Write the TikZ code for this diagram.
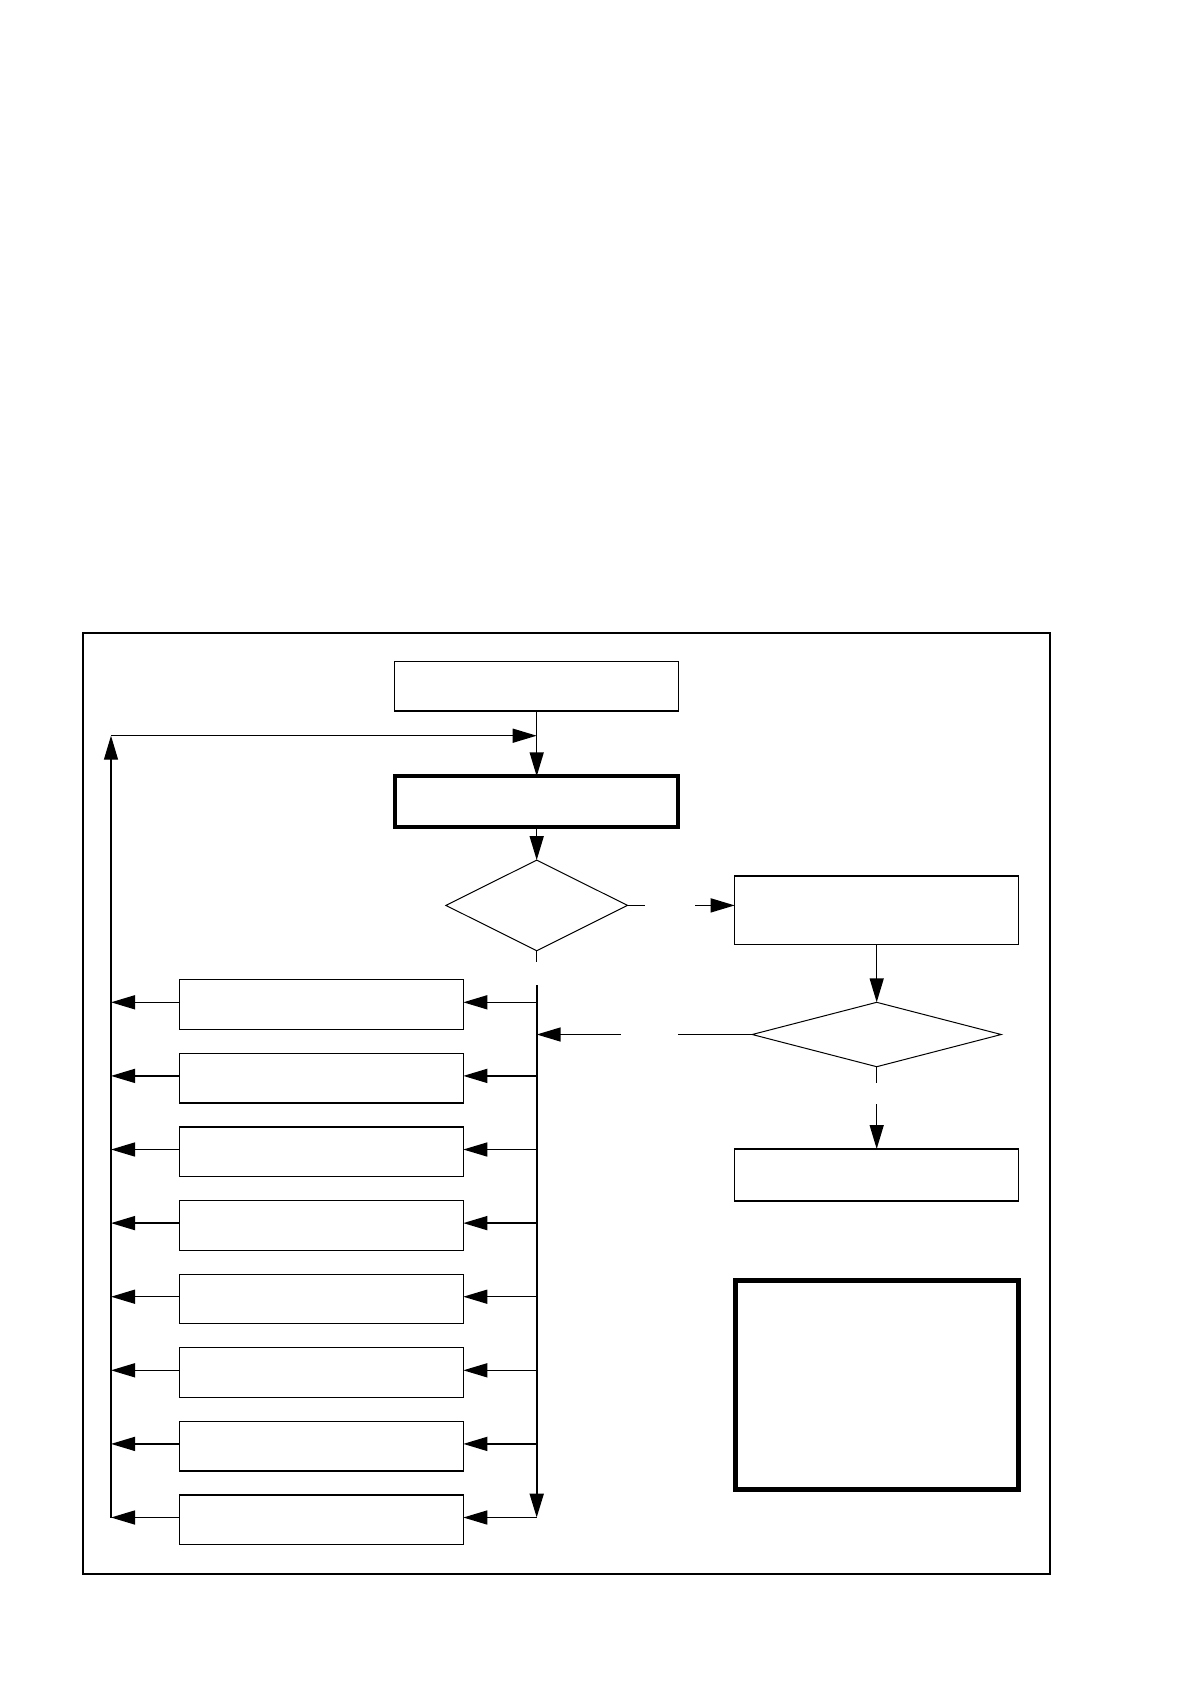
\documentclass[tikz,border=0pt]{standalone}
\usetikzlibrary{arrows.meta,shapes.geometric}
\tikzset{
  box/.style={draw, line width=1.3pt, minimum width=284pt, inner sep=0pt, outer sep=0pt},
  thickbox/.style={draw, line width=4.3pt, minimum width=283pt, inner sep=0pt, outer sep=0pt},
  dia/.style={draw, diamond, line width=1pt, inner sep=0pt, outer sep=0pt},
  conn/.style={line width=1.5pt},
  arr/.style={line width=1.5pt, -{Triangle[length=24pt,width=14pt]}},
}
\begin{document}
\begin{tikzpicture}[x=1pt,y=-1pt]
\useasboundingbox (0,0) rectangle (1188,1684);
% frame
\draw[line width=2.3pt] (83.3,632.7) rectangle (1049.7,1574.3);
% main column
\node[box, minimum height=49.3pt] (start) at (536.7,686.3) {};
\node[thickbox, minimum height=51pt] (proc) at (536.7,801.8) {};
\node[dia, minimum width=181.6pt, minimum height=90.6pt] (d1) at (536.7,905.4) {};
% right column
\node[box, minimum height=68.3pt] (r1) at (876.7,910.2) {};
\node[dia, minimum width=249pt, minimum height=64.4pt] (d2) at (876.7,1034.5) {};
\node[box, minimum height=52pt] (r2) at (876.7,1175) {};
\node[draw, line width=4.7pt, minimum width=283pt, minimum height=209pt, inner sep=0pt] (leg) at (876.8,1384.8) {};
% left boxes and their connector levels
\foreach \k in {1,...,8}{
  \node[box, minimum height=49.6pt] (b\k) at (321.3,{1004.6+73.6*(\k-1)}) {};
  \coordinate (row\k) at (321.3,{1002.3+73.6*(\k-1)});
}
% coordinates
\coordinate (ltop) at (111,735.7);
\coordinate (mtop) at (536.7,735.7);
\coordinate (lbot) at (111,1517.5);
\coordinate (vstub) at (536.7,962.3);
\coordinate (vtop) at (536.7,985);
\coordinate (vbot) at (536.7,1517.5);
\coordinate (yesend) at (645,905.4);
\coordinate (yesstart) at (695,905.4);
\coordinate (d2send) at (876.7,1082.7);
\coordinate (d2sstart) at (876.7,1104.3);
\coordinate (d2wend) at (677.7,1034.5);
\coordinate (d2wstart) at (620.7,1034.5);
\coordinate (d2wtip) at (536.7,1034.5);
% connectors
\draw[arr] (start.south) -- (proc.north);
\draw[arr] (proc.south) -- (d1.north);
\draw[conn] (d1.east) -- (yesend);
\draw[arr] (yesstart) -- (yesstart -| r1.west);
\draw[arr] (r1.south) -- (d2.north);
\draw[conn] (d2.south) -- (d2send);
\draw[arr] (d2sstart) -- (r2.north);
\draw[conn] (d2.west) -- (d2wend);
\draw[arr] (d2wstart) -- (d2wtip);
\draw[conn] (d1.south) -- (vstub);
\draw[arr, line width=2pt] (vtop) -- (vbot);
\draw[arr, line width=1.2pt] (lbot) -- (ltop);
\draw[arr] (ltop) -- (mtop);
\foreach \k in {1,...,8}{
  \draw[arr] (vtop |- row\k) -- (b\k.east |- row\k);
  \draw[arr] (b\k.west |- row\k) -- (ltop |- row\k);
}
\end{tikzpicture}
\end{document}
